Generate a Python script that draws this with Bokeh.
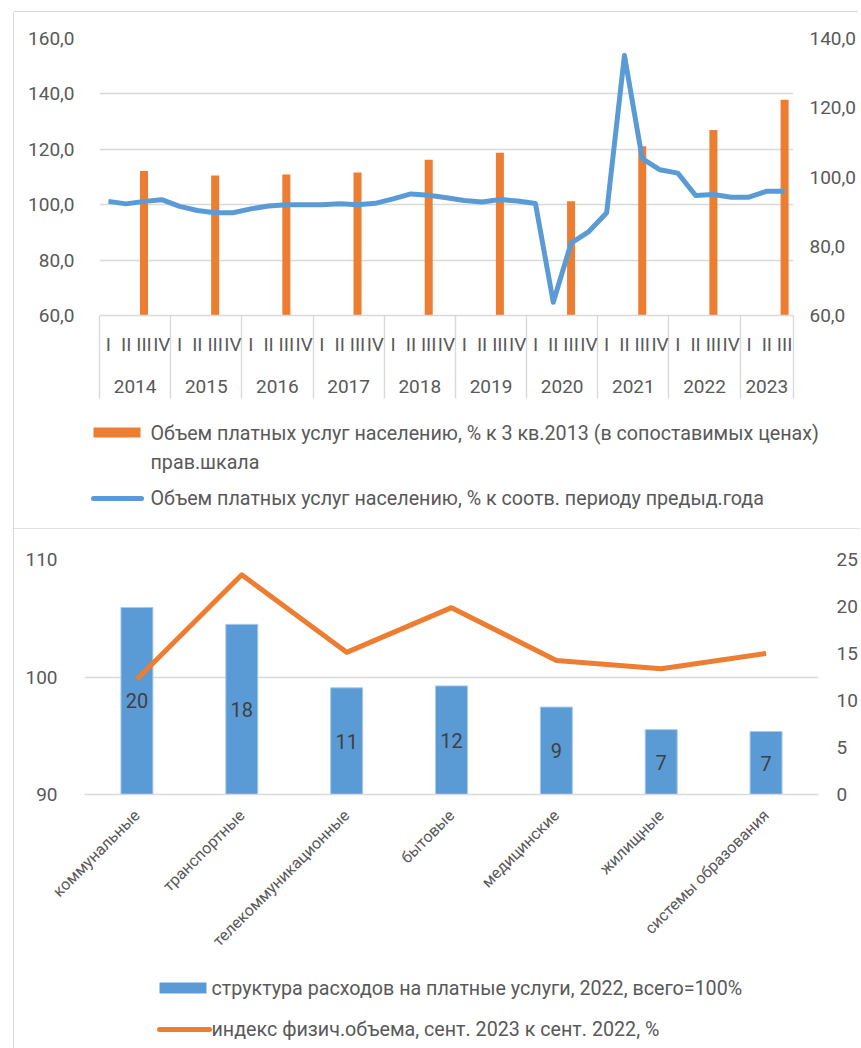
import math
from bokeh.plotting import figure
from bokeh.models import (Range1d, LinearAxis, CategoricalAxis, FixedTicker, Grid,
                          ColumnDataSource, LabelSet, FactorRange)
from bokeh.layouts import column
from bokeh.embed import file_html
from bokeh.resources import INLINE
from bokeh.core.properties import value

FONT = "Roboto"
GRAY = "#595959"
GRID = "#d9d9d9"
BLUE = "#5B9BD5"
ORANGE = "#ED7D31"
LEGEND_SIZE = "19.7px"

# ---------------- data: top chart ----------------
years = ["2014", "2015", "2016", "2017", "2018", "2019", "2020", "2021", "2022", "2023"]
quarter_names = ["I", "II", "III", "IV"]
quarters_per_year = [4, 4, 4, 4, 4, 4, 4, 4, 4, 3]
yoy_index = [
    101.2, 100.3, 101.2, 101.8,
    99.4, 97.9, 97.1, 97.1,
    98.5, 99.5, 100.0, 100.0,
    100.0, 100.3, 100.0, 100.5,
    102.1, 103.9, 103.4, 102.5,
    101.5, 101.0, 101.9, 101.3,
    100.4, 64.8, 86.1, 90.3,
    97.1, 153.9, 116.6, 112.6,
    111.4, 103.3, 103.7, 102.7,
    102.7, 104.9, 104.9,
]
level_q3 = [101.7, 100.4, 100.7, 101.3, 105.0, 107.0, 93.0, 108.9, 113.6, 122.3]
left_ticks = [60, 80, 100, 120, 140, 160]
right_ticks = [60, 80, 100, 120, 140]
legend_top_lines = [
    "Объем платных услуг населению, % к 3 кв.2013 (в сопоставимых ценах)",
    "прав.шкала",
    "Объем платных услуг населению, % к соотв. периоду предыд.года",
]

# ---------------- data: bottom chart ----------------
categories = ["коммунальные", "транспортные", "телекоммуникационные", "бытовые",
              "медицинские", "жилищные", "системы образования"]
share = [19.9, 18.1, 11.35, 11.55, 9.3, 6.9, 6.7]
phys_index = [99.8, 108.7, 102.1, 105.9, 101.4, 100.7, 102.0]
left2_ticks = [90, 100, 110]
right2_ticks = [0, 5, 10, 15, 20, 25]
legend_bottom = [
    "структура расходов на платные услуги, 2022, всего=100%",
    "индекс физич.объема, сент. 2023 к сент. 2022, %",
]

# ---------------- derived positions ----------------
q_x, q_labels, year_centers, year_bounds, bar_x = [], [], [], [-0.5], []
i = 0
for y, n in zip(years, quarters_per_year):
    start = i
    for q in quarter_names[:n]:
        q_x.append(i)
        q_labels.append(q)
        i += 1
    year_centers.append((start + i - 1) / 2)
    year_bounds.append(i - 0.5)
    bar_x.append(start + quarter_names.index("III"))
n_q = len(q_x)


def style_axis(ax, size="19px"):
    ax.major_label_text_font = FONT
    ax.major_label_text_font_size = size
    ax.major_label_text_color = GRAY
    ax.axis_line_color = None
    ax.major_tick_line_color = None
    ax.minor_tick_line_color = None


def legend_figure(w, h):
    f = figure(frame_width=w, frame_height=h, x_range=Range1d(0, w), y_range=Range1d(h, 0),
               x_axis_location=None, y_axis_location=None,
               output_backend="svg", toolbar_location=None, min_border=0)
    f.outline_line_color = None
    f.xgrid.visible = False
    f.ygrid.visible = False
    f.frame_align = False
    return f


# ---------------- top figure ----------------
p1 = figure(frame_width=694, frame_height=277,
            x_range=Range1d(-0.5, n_q - 0.5), y_range=Range1d(left_ticks[0], left_ticks[-1]),
            x_axis_location=None, y_axis_location=None,
            output_backend="svg", toolbar_location=None,
            min_border_left=85, min_border_right=62, min_border_top=26, min_border_bottom=85)
p1.extra_y_ranges = {"r": Range1d(right_ticks[0], right_ticks[-1])}
p1.outline_line_color = None
p1.xgrid.visible = False
p1.ygrid.visible = False
p1.frame_align = False
p1.margin = (12, 0, 0, 14)
p1.styles = {"box-shadow": "-1px 0 0 0 #d9d9d9, 0 -1px 0 0 #d9d9d9"}

ly = LinearAxis(ticker=FixedTicker(ticks=left_ticks),
                major_label_overrides={t: f"{t},0" for t in left_ticks})
style_axis(ly)
ly.major_label_standoff = 19
p1.add_layout(ly, "left")

ry = LinearAxis(y_range_name="r", ticker=FixedTicker(ticks=right_ticks),
                major_label_overrides={t: f"{t},0" for t in right_ticks})
style_axis(ry)
ry.major_label_standoff = 10
p1.add_layout(ry, "right")

p1.add_layout(Grid(dimension=1, ticker=ly.ticker, grid_line_color=GRID, grid_line_width=1.4))

SEP = 83
qx = LinearAxis(ticker=FixedTicker(ticks=q_x, minor_ticks=year_bounds),
                major_label_overrides={x: l for x, l in zip(q_x, q_labels)})
style_axis(qx)
qx.axis_line_color = GRID
qx.axis_line_width = 1.4
qx.minor_tick_line_color = GRID
qx.minor_tick_line_width = 1.4
qx.minor_tick_in = 0
qx.minor_tick_out = SEP
qx.major_tick_in = 0
qx.major_tick_out = 0
qx.major_label_standoff = 17 - SEP
p1.add_layout(qx, "below")

yx = LinearAxis(ticker=FixedTicker(ticks=year_centers),
                major_label_overrides={c: y for c, y in zip(year_centers, years)})
style_axis(yx)
yx.major_tick_in = 0
yx.major_tick_out = 0
yx.major_label_standoff = 21
p1.add_layout(yx, "below")

p1.vbar(x=bar_x, top=level_q3, bottom=right_ticks[0], width=0.45,
        y_range_name="r", fill_color=ORANGE, line_color=None)
p1.line(x=q_x, y=yoy_index, line_color=BLUE, line_width=5, line_join="round")

# legend block of the top chart (swatches + texts)
lg1 = legend_figure(846, 128)
lg1.margin = (0, 0, 0, 14)
lg1.styles = {"box-shadow": "-1px 0 0 0 #d9d9d9, 0 1px 0 0 #d9d9d9"}
lg1.quad(left=[79], right=[126], top=[27], bottom=[37], fill_color=ORANGE, line_color=None)
lg1.line(x=[79, 127], y=[98, 98], line_color=BLUE, line_width=5, line_cap="round")
lg1.text(x=[136, 136, 136], y=[33, 62, 98], text=legend_top_lines,
         text_font=value(FONT), text_font_size=value(LEGEND_SIZE), text_color=GRAY,
         text_baseline="middle", text_align="left")

# ---------------- bottom figure ----------------
p2 = figure(frame_width=734, frame_height=235,
            x_range=FactorRange(*categories), y_range=Range1d(left2_ticks[0], left2_ticks[-1]),
            x_axis_location=None, y_axis_location=None,
            output_backend="svg", toolbar_location=None,
            min_border_left=70, min_border_right=38, min_border_top=31, min_border_bottom=160)
p2.extra_y_ranges = {"r": Range1d(right2_ticks[0], right2_ticks[-1])}
p2.outline_line_color = None
p2.xgrid.visible = False
p2.ygrid.visible = False
p2.frame_align = False
p2.margin = (0, 0, 0, 14)
p2.styles = {"box-shadow": "-1px 0 0 0 #d9d9d9"}

ly2 = LinearAxis(ticker=FixedTicker(ticks=left2_ticks))
style_axis(ly2)
ly2.major_label_standoff = 21
p2.add_layout(ly2, "left")

ry2 = LinearAxis(y_range_name="r", ticker=FixedTicker(ticks=right2_ticks))
style_axis(ry2)
ry2.major_label_standoff = 12
p2.add_layout(ry2, "right")

p2.add_layout(Grid(dimension=1, ticker=ly2.ticker, grid_line_color=GRID, grid_line_width=1.4))

cx = CategoricalAxis()
style_axis(cx, "16px")
cx.axis_line_color = GRID
cx.axis_line_width = 1.4
cx.major_label_orientation = math.pi / 4
cx.major_label_standoff = 12
p2.add_layout(cx, "below")

src2 = ColumnDataSource(dict(cat=categories, share=share, mid=[v / 2 for v in share],
                             lbl=[f"{v:.0f}" for v in share], idx=phys_index))
p2.vbar(x="cat", top="share", bottom=right2_ticks[0], width=0.305, source=src2,
        y_range_name="r", fill_color=BLUE, line_color="#A9C9EA", line_width=1)
p2.line(x="cat", y="idx", source=src2, line_color=ORANGE, line_width=5, line_join="round")

labels2 = LabelSet(x="cat", y="mid", text="lbl", source=src2, y_range_name="r",
                   text_align="center", text_baseline="middle",
                   text_font=value(FONT), text_font_size=value("20px"), text_color="#404040")
p2.add_layout(labels2)

# legend block of the bottom chart
lg2 = legend_figure(846, 92)
lg2.margin = (0, 0, 0, 14)
lg2.styles = {"box-shadow": "-1px 0 0 0 #d9d9d9"}
lg2.quad(left=[145], right=[192], top=[23], bottom=[34], fill_color=BLUE, line_color=None)
lg2.line(x=[145, 195], y=[70, 70], line_color=ORANGE, line_width=5, line_cap="round")
lg2.text(x=[197, 197], y=[29, 70], text=legend_bottom,
         text_font=value(FONT), text_font_size=value(LEGEND_SIZE), text_color=GRAY,
         text_baseline="middle", text_align="left")

layout = column(p1, lg1, p2, lg2, spacing=0)
open("out.html", "w").write(file_html(layout, INLINE))
